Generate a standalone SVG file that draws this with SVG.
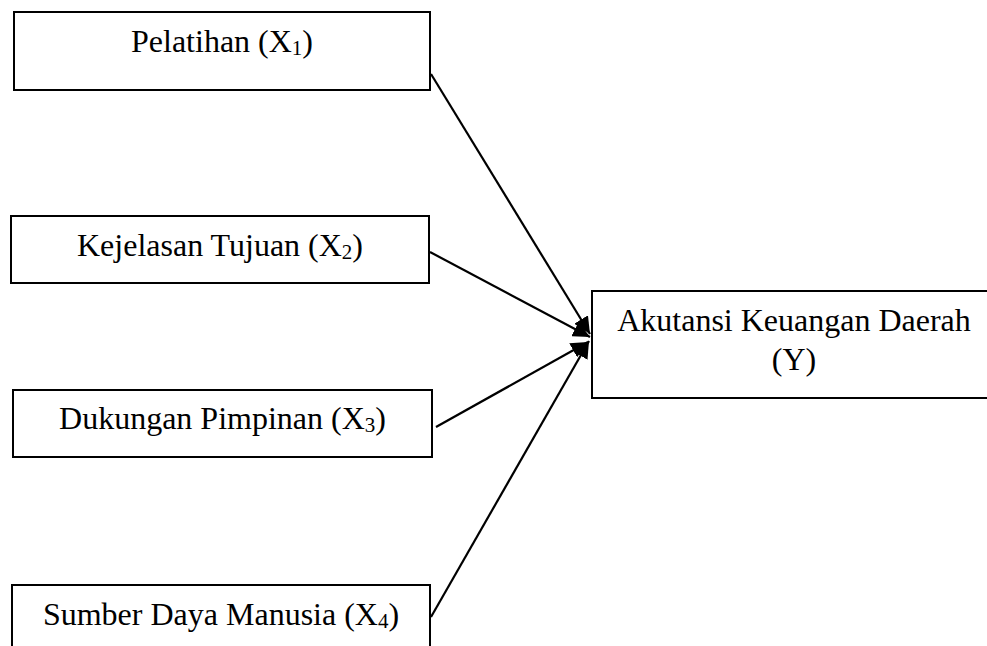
<svg xmlns="http://www.w3.org/2000/svg" width="987" height="646" viewBox="0 0 987 646">
<style>
.box{fill:#fff;stroke:#000;stroke-width:2}
.lbl{font-family:"Liberation Serif","Times New Roman",serif;font-size:32px;fill:#000;text-anchor:middle}
.sub{font-size:21px}
.edge{stroke:#000;stroke-width:2.2;fill:none;marker-end:url(#ah)}
</style>
<defs>
<marker id="ah" markerUnits="userSpaceOnUse" markerWidth="18" markerHeight="16" refX="17" refY="8" orient="auto">
<path d="M0,0 L17,8 L0,16 Z" fill="#000"/>
</marker>
</defs>
<rect width="987" height="646" fill="#fff"/>
<g id="x1">
<rect class="box" x="14" y="12" width="416" height="78"/>
<text class="lbl" x="222" y="52">Pelatihan (X<tspan class="sub" dy="3">1</tspan><tspan dy="-3">)</tspan></text>
</g>
<g id="x2">
<rect class="box" x="11" y="216" width="418" height="67"/>
<text class="lbl" x="220" y="256">Kejelasan Tujuan (X<tspan class="sub" dy="3">2</tspan><tspan dy="-3">)</tspan></text>
</g>
<g id="x3">
<rect class="box" x="13" y="390" width="419" height="67"/>
<text class="lbl" x="222.5" y="429">Dukungan Pimpinan (X<tspan class="sub" dy="3">3</tspan><tspan dy="-3">)</tspan></text>
</g>
<g id="x4">
<rect class="box" x="12" y="585" width="418" height="100"/>
<text class="lbl" x="221" y="625">Sumber Daya Manusia (X<tspan class="sub" dy="3">4</tspan><tspan dy="-3">)</tspan></text>
</g>
<g id="y">
<rect class="box" x="592" y="291" width="420" height="107"/>
<text class="lbl" x="794" y="331">Akutansi Keuangan Daerah</text>
<text class="lbl" x="794" y="370">(Y)</text>
</g>
<g id="connectors">
<line class="edge" x1="431" y1="74" x2="590" y2="334"/>
<line class="edge" x1="430" y1="252" x2="590" y2="337"/>
<line class="edge" x1="436" y1="427" x2="588" y2="342"/>
<line class="edge" x1="431" y1="617" x2="589" y2="341"/>
</g>
</svg>
